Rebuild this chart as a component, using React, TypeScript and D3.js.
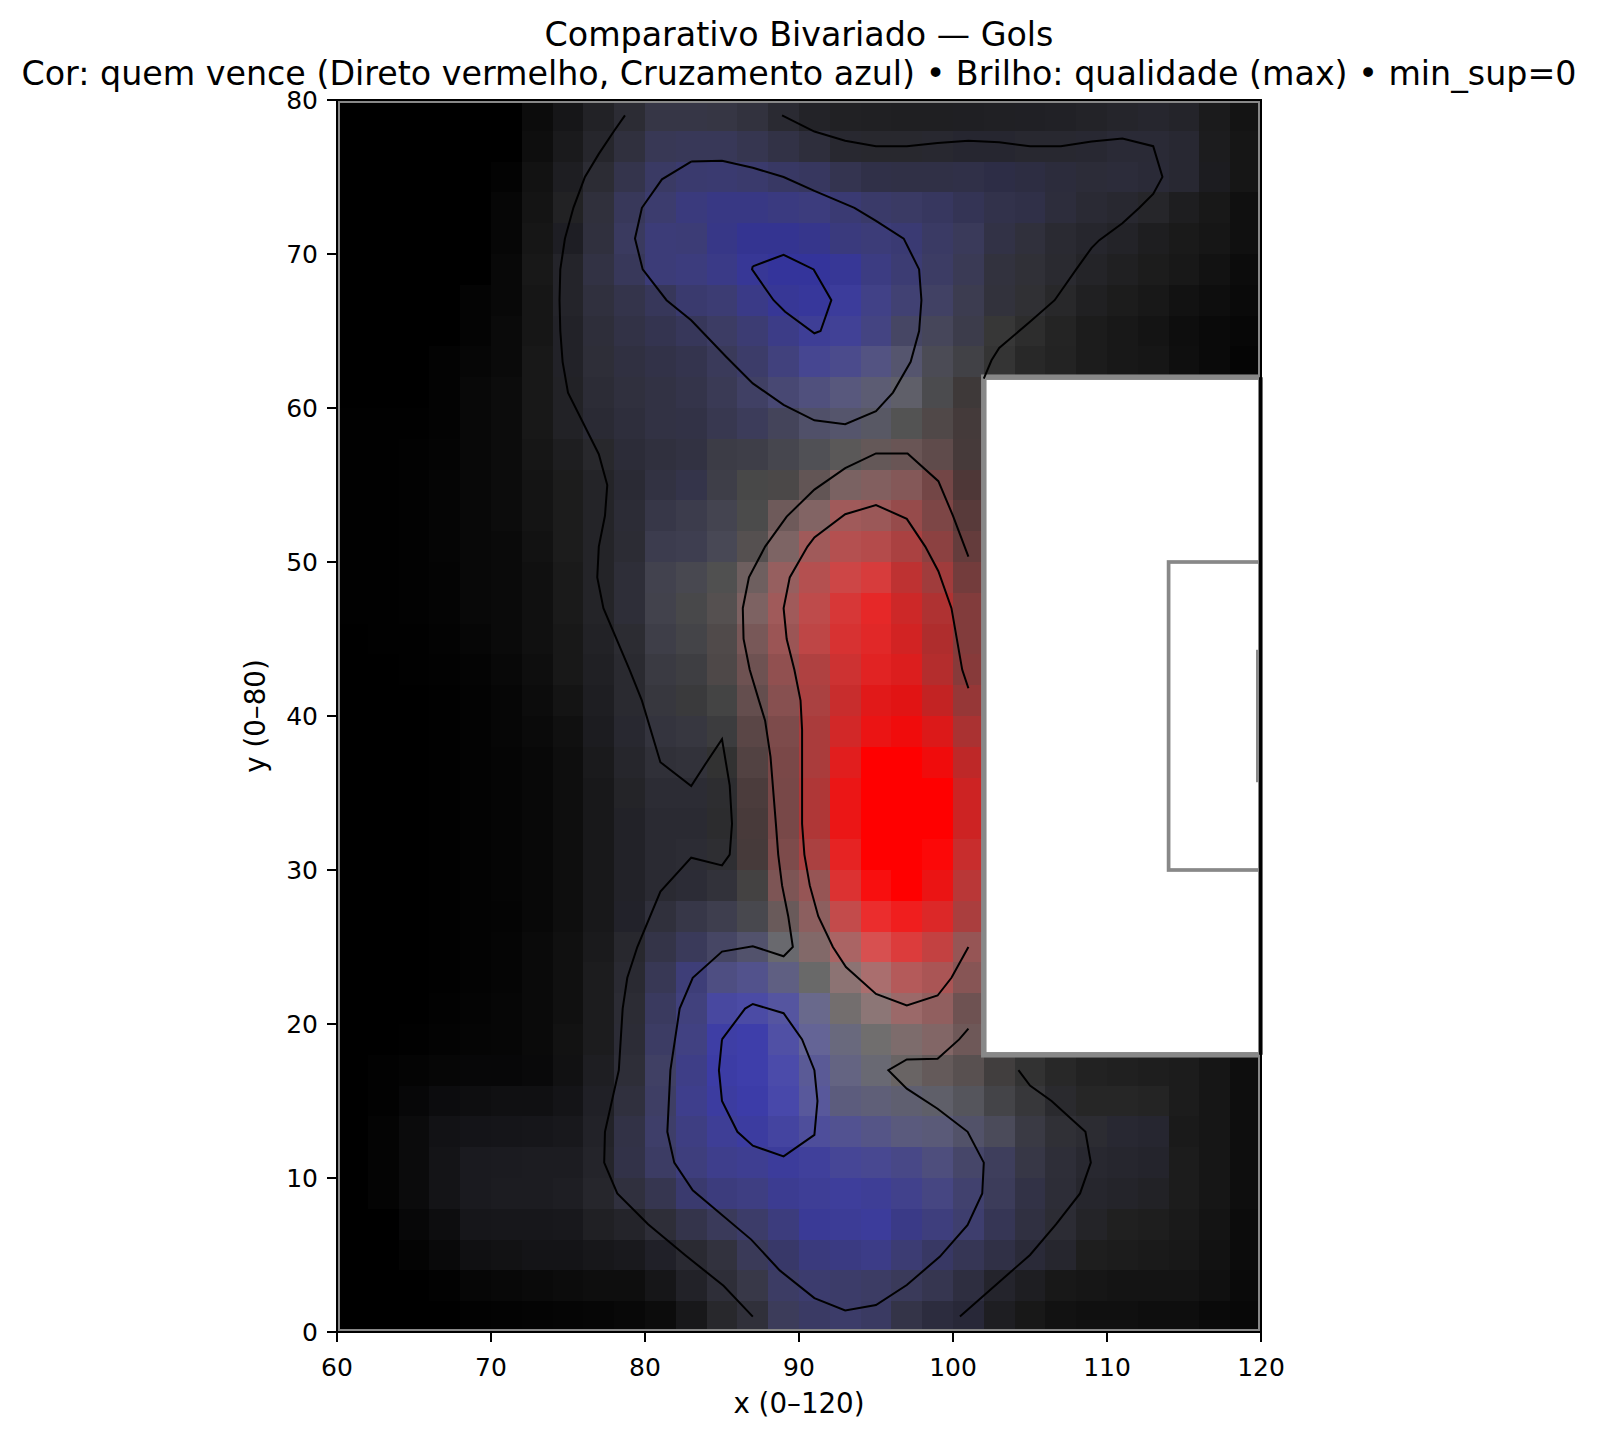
import React from "react";
import * as d3 from "d3";

// Heatmap channels. Rows run from y=78-80 (top) to y=0-2 (bottom),
// columns from x=60-62 to x=118-120. Rows cut short at 21 values are masked by the box.
const direto: number[][] = [
  [0,0,0,0,0,0,12,22,34,44,54,54,54,50,42,35,33,32,31,31,31,32,32,33,35,37,38,36,27,20],
  [0,0,0,0,0,0,14,26,38,48,56,56,56,54,50,46,40,40,40,40,38,38,40,40,40,42,42,40,28,22],
  [0,0,0,0,0,3,18,30,44,52,58,58,58,58,56,55,52,48,48,48,48,45,45,44,44,44,42,40,28,22],
  [0,0,0,0,0,6,20,34,48,56,60,58,56,56,58,60,58,58,58,55,52,50,48,45,42,40,38,30,24,16],
  [0,0,0,0,0,6,22,30,48,58,60,60,55,52,52,54,58,60,58,58,58,50,48,42,38,35,30,26,22,16],
  [0,0,0,0,0,8,24,36,50,56,60,60,58,55,52,52,55,60,60,60,58,50,48,42,36,32,28,24,18,12],
  [0,0,0,0,4,8,22,36,48,52,55,58,60,58,55,55,60,65,65,65,60,50,48,40,32,28,24,18,14,10],
  [0,0,0,0,4,10,22,34,46,50,52,55,60,60,60,62,65,68,70,70,60,55,45,36,28,24,20,14,10,7],
  [0,0,0,3,6,10,24,34,46,48,50,52,58,60,65,70,75,83,85,75,65,52,40,35,28,24,22,15,10,5],
  [0,0,0,3,8,12,24,34,44,48,50,52,58,64,72,80,88,92,95,75,62],
  [1,1,1,3,8,12,24,34,42,46,50,50,56,60,68,80,85,88,83,80,68],
  [1,1,2,4,8,12,22,30,40,44,48,50,60,62,70,80,90,100,105,95,70],
  [1,1,2,5,8,12,20,28,36,42,50,52,62,72,75,98,122,130,132,115,78],
  [1,1,2,5,8,12,20,28,36,44,55,60,68,75,110,130,160,155,150,125,88],
  [1,1,2,5,8,10,18,28,36,44,60,62,72,85,125,160,180,180,170,140,100],
  [1,1,2,4,8,10,16,26,36,46,66,72,80,110,150,180,205,215,190,160,115],
  [1,1,2,4,8,10,16,26,36,46,66,72,85,125,160,190,215,230,205,175,130],
  [0,1,1,3,6,10,16,24,34,44,62,68,80,120,155,190,215,225,210,175,130],
  [0,0,1,2,4,8,14,24,32,42,58,62,78,110,145,175,205,225,220,180,135],
  [0,0,0,1,3,6,12,20,30,42,55,58,68,100,135,170,200,225,225,195,150],
  [0,0,0,1,3,6,10,16,28,40,52,55,60,90,125,170,210,235,240,220,170],
  [0,0,0,1,3,5,8,14,26,38,48,50,50,82,122,170,225,255,255,240,190],
  [0,0,0,1,3,5,8,14,24,36,44,44,45,75,120,175,235,255,255,255,205],
  [0,0,0,1,3,5,8,14,24,34,42,42,44,72,120,175,235,255,255,255,205],
  [0,0,0,1,3,5,8,14,24,34,42,44,46,70,125,170,230,255,255,252,200],
  [0,0,0,1,3,5,8,14,24,34,42,44,50,68,125,150,220,248,255,235,185],
  [0,0,0,1,3,4,8,14,24,34,48,55,62,72,105,140,195,235,240,220,170],
  [0,0,0,1,3,5,10,16,26,40,52,58,70,82,105,130,170,215,220,195,150],
  [0,0,0,1,3,5,10,16,28,42,56,62,78,82,95,105,140,170,180,170,135],
  [0,0,0,2,4,6,10,16,28,44,58,65,72,75,85,105,115,140,155,145,110],
  [0,0,1,3,5,6,10,18,28,44,60,65,62,62,80,100,105,112,125,130,110],
  [0,2,4,6,7,7,9,17,30,46,64,62,60,62,75,90,100,105,105,100,88,65,50,40,34,32,30,28,22,14],
  [0,2,7,12,14,16,16,20,32,48,62,62,60,60,72,88,92,95,95,95,85,68,55,42,38,38,36,28,22,14],
  [0,4,11,18,20,21,22,24,34,50,62,62,62,60,68,78,82,85,90,90,82,75,58,48,44,40,38,26,22,14],
  [0,4,11,20,26,27,28,28,36,50,60,62,62,62,60,64,70,72,72,78,70,62,55,46,40,38,36,28,22,14],
  [0,4,11,20,26,28,28,30,38,48,54,58,60,62,60,62,62,62,65,70,65,60,50,45,38,36,34,28,22,14],
  [0,0,7,13,22,23,23,24,32,36,46,52,58,60,60,58,60,60,58,62,62,54,48,44,36,32,30,26,20,12],
  [0,0,4,9,16,18,20,20,23,25,32,42,50,58,56,58,58,60,60,56,54,48,42,38,30,28,26,24,18,12],
  [0,0,0,2,6,8,10,12,14,14,22,34,46,56,60,60,60,60,58,54,46,36,30,24,22,20,20,20,16,10],
  [0,0,0,0,2,3,4,5,6,8,12,24,40,48,60,58,60,58,52,44,40,30,24,18,16,16,14,14,10,8],
];

const cruzamento: number[][] = [
  [0,0,0,0,0,0,12,24,38,52,70,70,68,62,50,40,36,35,34,34,35,36,37,38,40,43,46,42,28,20],
  [0,0,0,0,0,0,14,28,44,62,85,88,88,80,70,60,48,46,46,48,48,48,48,48,50,54,54,50,30,22],
  [0,0,0,0,0,3,18,34,52,76,100,110,112,108,100,95,80,72,70,70,72,70,66,60,56,58,55,50,32,22],
  [0,0,0,0,0,6,20,36,60,90,110,125,132,132,128,125,115,105,100,95,85,75,72,60,52,48,42,32,24,16],
  [0,0,0,0,0,6,22,36,62,95,120,118,135,145,145,140,125,120,115,100,90,70,60,50,45,40,32,26,22,16],
  [0,0,0,0,0,8,24,42,68,90,120,125,135,150,155,155,150,130,115,100,85,62,55,48,40,34,28,24,18,12],
  [0,0,0,0,4,8,22,42,62,75,90,110,115,135,150,155,155,135,115,100,80,60,52,42,34,28,24,18,14,10],
  [0,0,0,0,4,10,22,40,58,70,80,90,100,115,135,150,150,130,100,90,75,55,45,36,28,24,20,14,10,7],
  [0,0,0,3,6,10,24,40,56,65,72,78,90,105,125,145,140,130,110,85,70,52,40,35,28,24,22,15,10,5],
  [0,0,0,3,8,12,24,38,54,62,68,74,85,100,115,125,125,115,105,78,57],
  [1,1,1,3,8,12,24,38,52,60,68,70,80,90,90,105,108,100,83,72,58],
  [1,1,2,4,8,12,22,32,44,56,62,66,70,72,78,85,88,88,85,75,58],
  [1,1,2,5,8,12,20,28,40,52,66,74,72,72,72,85,98,95,88,70,55],
  [1,1,2,5,8,12,20,28,40,54,72,76,80,75,90,100,90,88,75,70,58],
  [1,1,2,5,8,10,18,28,40,52,78,80,85,80,100,90,80,75,65,65,60],
  [1,1,2,4,8,10,16,26,40,56,78,80,80,95,95,80,70,60,50,60,60],
  [1,1,2,4,8,10,16,26,40,56,76,74,80,98,90,75,55,40,40,50,60],
  [0,1,1,3,6,10,16,24,38,50,72,72,74,88,85,70,50,40,35,45,60],
  [0,0,1,2,4,8,14,24,36,48,66,66,72,82,80,65,50,35,30,45,58],
  [0,0,0,1,3,6,12,20,34,48,62,60,68,78,80,65,45,25,20,35,55],
  [0,0,0,1,3,6,10,16,32,48,62,64,62,70,75,60,40,20,12,25,50],
  [0,0,0,1,3,5,8,14,28,44,56,58,50,66,72,60,30,0,0,12,40],
  [0,0,0,1,3,5,8,14,26,40,52,52,48,60,72,55,22,0,0,0,35],
  [0,0,0,1,3,5,8,14,26,40,50,50,46,58,72,55,22,0,0,0,35],
  [0,0,0,1,3,5,8,14,26,40,50,52,50,58,75,65,35,0,0,8,45],
  [0,0,0,1,3,5,8,14,26,40,50,54,58,66,85,85,50,15,0,20,55],
  [0,0,0,1,3,4,8,14,26,42,60,72,78,78,90,95,75,45,30,40,62],
  [0,0,0,1,3,5,10,16,28,46,72,90,100,108,110,105,100,80,60,65,85],
  [0,0,0,1,3,5,10,16,30,50,85,120,130,140,130,105,115,110,90,85,85],
  [0,0,0,2,4,6,10,16,30,52,95,125,160,165,160,140,110,118,105,95,82],
  [0,0,1,3,5,6,10,18,30,54,100,130,165,170,165,150,125,110,108,102,88],
  [0,2,4,6,8,8,10,18,34,56,100,135,165,170,170,150,130,115,100,90,80,62,50,40,34,32,30,28,22,14],
  [0,2,8,14,16,18,18,23,38,62,100,140,160,168,170,155,125,120,112,105,92,72,58,46,38,38,36,28,22,14],
  [0,4,12,21,24,25,26,28,40,70,105,130,150,160,160,155,145,135,125,120,105,90,68,54,50,50,48,26,22,14],
  [0,4,12,23,31,32,33,33,42,72,100,125,140,145,155,155,150,145,135,125,105,92,70,56,48,46,44,28,22,14],
  [0,4,12,23,31,33,33,35,44,62,80,110,125,130,145,150,155,150,140,130,110,90,70,55,45,42,38,28,22,14],
  [0,0,8,15,26,27,27,28,36,42,56,75,90,105,125,150,150,155,135,125,110,85,65,52,40,32,30,26,20,12],
  [0,0,4,10,18,20,23,23,26,29,40,50,62,88,105,125,130,135,115,100,85,70,56,46,30,28,26,24,18,12],
  [0,0,0,2,6,8,10,12,14,14,24,40,56,72,100,110,105,100,90,80,64,44,34,24,22,20,20,20,16,10],
  [0,0,0,0,2,3,4,5,6,8,12,26,44,58,90,100,105,98,72,62,56,34,24,18,16,16,14,14,10,8],
];

// Contour lines in pitch coordinates [x, y]
const contourLines: [number, number][][] = [
  [[78.7,79],[78,78],[77,76.5],[76.1,75],[75.35,73],[74.8,71],[74.5,69],[74.45,67],[74.5,65],[74.65,63],[75,61],[77,57],[77.55,55],[77.4,53],[77,51],[76.9,49],[77.3,47],[79,43],[79.8,41],[81,37],[83,35.45],[84,37],[85,38.5],[85.5,35.5],[85.65,33],[85.5,31],[85,30.3],[83,30.8],[81,28.6],[79.5,25],[78.85,23],[78.55,21],[78.3,17],[77.4,13],[77.35,11],[78.2,9],[80.2,7],[82.6,5],[85.1,3],[87,1]],
  [[88.9,79],[91,77.95],[93,77.35],[95,77],[97,77],[99,77.2],[101,77.35],[103,77.25],[105,77],[107,77],[109,77.3],[111,77.5],[113,77],[113.6,75],[113,73.9],[112.1,73],[111,72],[109.5,70.9],[109,70.4],[108,69],[106.6,67],[105,65.6],[103,63.9],[102.5,63.1],[102,61.9]],
  [[83,76],[85,76.05],[87,75.6],[89,75],[91,74.1],[93.6,73],[95,72.15],[96.8,71],[97.8,69],[97.95,67],[97.8,65],[97.25,63],[96.1,61],[95,59.8],[93,58.95],[91,59.2],[89,60.2],[87,61.6],[85.3,63.3],[83,65.7],[81.4,67],[79.85,69],[79.35,71],[79.8,73],[81.1,74.85],[83,76]],
  [[87,69.2],[89,69.95],[90.95,69],[92.1,67],[91.4,65],[91,64.85],[89.1,66.25],[88.35,67],[86.95,69],[87,69.2]],
  [[101,50.35],[100,53],[99.05,55.25],[97.05,57.05],[95,57.05],[93,56.1],[91,54.7],[89.2,52.95],[87.8,51],[86.75,49],[86.35,47],[86.4,45],[86.8,43],[87.4,41],[87.8,39.7],[88.15,37.35],[88.5,33],[88.65,31],[88.9,29],[89.3,27],[89.6,25],[89,24.4],[87,25.05],[85,24.7],[83.1,23],[82.25,21],[81.95,19],[81.65,17],[81.45,13],[81.9,11],[83.1,9.2],[86.9,6],[88.75,4],[91,2.2],[93,1.4],[95,1.75],[97,3.05],[99.15,4.9],[100.95,6.95],[101.9,9],[102,11],[100.95,13],[99,14.5],[97,15.8],[95.8,17],[97,17.7],[99,17.75],[100.4,19],[101,19.7]],
  [[101,41.8],[100.6,43],[99.9,47],[99.05,49.4],[98.2,51],[97,52.8],[95,53.7],[93,53.1],[91,51.6],[90.55,51],[89.4,49],[89,47],[89.2,45],[89.7,43],[90.1,41],[90.2,39.1],[90.2,35],[90.2,33],[90.35,31],[90.7,29],[91.25,27],[92.2,25],[93.05,23.7],[95,21.95],[97,21.2],[99,21.85],[99.9,23],[101,25]],
  [[85,19],[86.5,21],[87,21.3],[89,20.7],[90.2,19],[91,17],[91.2,15],[91,12.8],[89,11.4],[87,12.1],[86,13],[85,15],[84.8,17],[85,19]],
  [[104.25,17],[105,16],[106.4,15],[108.6,13],[108.95,11],[108.25,9],[106.7,7],[105,5],[103,3.25],[100.45,1]],
];

const xTicks = [60, 70, 80, 90, 100, 110, 120];
const yTicks = [0, 10, 20, 30, 40, 50, 60, 70, 80];

const title1 = "Comparativo Bivariado — Gols";
const title2 = "Cor: quem vence (Direto vermelho, Cruzamento azul) • Brilho: qualidade (max) • min_sup=0";

const WIDTH = 1598;
const HEIGHT = 1439;
const FONT = "'DejaVu Sans', sans-serif";
const PITCH = "#888888";

const x = d3.scaleLinear().domain([60, 120]).range([337, 1261]);
const y = d3.scaleLinear().domain([0, 80]).range([1332, 100]);
const contourPath = d3.line<[number, number]>().x((d) => x(d[0])).y((d) => y(d[1]));

const App = () => {
  const cellW = x(62) - x(60);
  const cellH = y(0) - y(2);

  return (
    <svg
      width={WIDTH}
      height={HEIGHT}
      style={{ position: "absolute", left: 0, top: 0, display: "block", fontFamily: FONT }}
    >
      <defs>
        <clipPath id="plot-area">
          <rect x={x(60)} y={y(80)} width={x(120) - x(60)} height={y(0) - y(80)} />
        </clipPath>
      </defs>
      <rect width={WIDTH} height={HEIGHT} fill="#fff" />

      {/* heatmap, the masked cells stay white */}
      <g shapeRendering="crispEdges">
        {direto.map((row, r) =>
          row.map((d, c) => {
            const b = cruzamento[r][c];
            return (
              <rect
                key={`${r}-${c}`}
                x={x(60 + c * 2)}
                y={y(80 - r * 2)}
                width={cellW + 0.5}
                height={cellH + 0.5}
                fill={d3.rgb(d, Math.min(d, b), b).formatHex()}
              />
            );
          })
        )}
      </g>

      {/* pitch markings, clipped to the axes like the original */}
      <g fill="none" stroke={PITCH} clipPath="url(#plot-area)">
        <rect x={x(60)} y={y(80)} width={x(120) - x(60)} height={y(0) - y(80)} strokeWidth={6} />
        <rect x={x(102)} y={y(62)} width={x(120) - x(102)} height={y(18) - y(62)} strokeWidth={5.5} />
        <rect x={x(114)} y={y(50)} width={x(120) - x(114)} height={y(30) - y(50)} strokeWidth={3.7} />
        <line x1={x(120) - 3.5} x2={x(120) - 3.5} y1={y(44.3)} y2={y(35.7)} strokeWidth={3} />
      </g>

      {/* contours */}
      <g fill="none" stroke="#000" strokeWidth={2} strokeLinejoin="miter">
        {contourLines.map((pts, i) => (
          <path key={i} d={contourPath(pts) ?? ""} />
        ))}
      </g>

      {/* axes */}
      <rect x={x(60)} y={y(80)} width={x(120) - x(60)} height={y(0) - y(80)} fill="none" stroke="#000" strokeWidth={2} />
      <line x1={x(120) - 0.2} x2={x(120) - 0.2} y1={y(62)} y2={y(18)} stroke="#000" strokeWidth={3.5} />
      {xTicks.map((t) => (
        <g key={t}>
          <line x1={x(t)} x2={x(t)} y1={y(0)} y2={y(0) + 10} stroke="#000" strokeWidth={2} />
          <text x={x(t)} y={y(0) + 44} textAnchor="middle" fontSize={25}>{t}</text>
        </g>
      ))}
      {yTicks.map((t) => (
        <g key={t}>
          <line x1={x(60)} x2={x(60) - 10} y1={y(t)} y2={y(t)} stroke="#000" strokeWidth={2} />
          <text x={x(60) - 19} y={y(t) + 9} textAnchor="end" fontSize={25}>{t}</text>
        </g>
      ))}
      <text x={x(90)} y={1413} textAnchor="middle" fontSize={27.7}>x (0–120)</text>
      <text transform={`translate(265,${y(40)}) rotate(-90)`} textAnchor="middle" fontSize={27.7}>y (0–80)</text>

      <text x={799} y={46} textAnchor="middle" fontSize={33.3}>{title1}</text>
      <text x={799} y={85} textAnchor="middle" fontSize={33.3}>{title2}</text>
    </svg>
  );
};

export default App;
